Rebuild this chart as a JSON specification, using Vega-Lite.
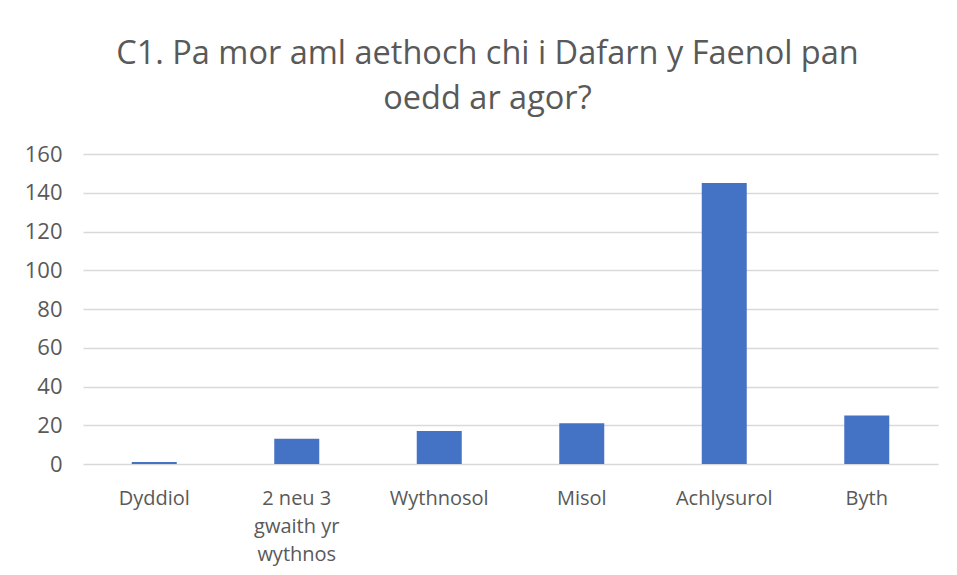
{
  "$schema": "https://vega.github.io/schema/vega-lite/v6.json",
  "autosize": "none",
  "width": 855,
  "height": 310,
  "padding": {"left": 83, "top": 154, "right": 19, "bottom": 111},
  "background": "white",
  "title": {
    "text": ["C1. Pa mor aml aethoch chi i Dafarn y Faenol pan", "oedd ar agor?"],
    "fontSize": 32.5,
    "font": "Open Sans",
    "fontWeight": "normal",
    "color": "#595959",
    "lineHeight": 45,
    "offset": 28,
    "dx": -23,
    "anchor": "middle"
  },
  "data": {
    "values": [
      {"category": "Dyddiol", "value": 1},
      {"category": "2 neu 3 gwaith yr wythnos", "value": 13},
      {"category": "Wythnosol", "value": 17},
      {"category": "Misol", "value": 21},
      {"category": "Achlysurol", "value": 145},
      {"category": "Byth", "value": 25}
    ]
  },
  "mark": {"type": "bar", "color": "#4472C4", "size": 45},
  "encoding": {
    "x": {
      "field": "category",
      "type": "nominal",
      "sort": null,
      "scale": {"paddingInner": 0, "paddingOuter": 0},
      "axis": {
        "title": null,
        "labelAngle": 0,
        "ticks": false,
        "domain": false,
        "labelFont": "Open Sans",
        "labelFontSize": 20,
        "labelColor": "#595959",
        "labelPadding": 24,
        "labelLineHeight": 28,
        "labelExpr": "datum.value == '2 neu 3 gwaith yr wythnos' ? ['2 neu 3', 'gwaith yr', 'wythnos'] : datum.value"
      }
    },
    "y": {
      "field": "value",
      "type": "quantitative",
      "scale": {"domain": [0, 160]},
      "axis": {
        "title": null,
        "values": [0, 20, 40, 60, 80, 100, 120, 140, 160],
        "ticks": false,
        "domain": false,
        "grid": true,
        "gridColor": "#D9D9D9",
        "gridWidth": 1.3,
        "labelFont": "Open Sans",
        "labelFontSize": 22,
        "labelColor": "#595959",
        "labelPadding": 21
      }
    }
  },
  "config": {"view": {"stroke": null}}
}
